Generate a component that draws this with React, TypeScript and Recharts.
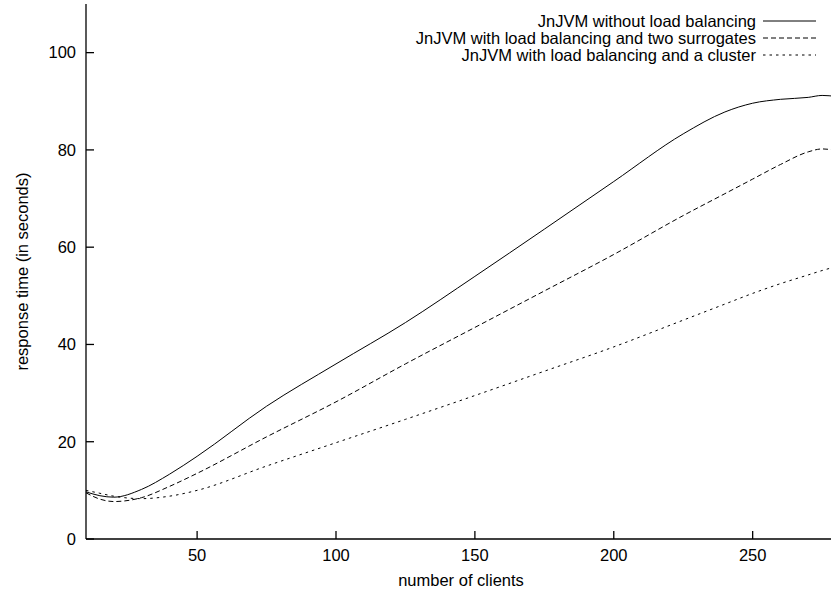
import React from "react";
import {LineChart, Line, XAxis, YAxis, Legend} from "recharts";

const clients = [10, 15, 20, 30, 40, 50, 75, 100, 125, 150, 175, 200, 225, 240, 250, 260, 270, 275, 280];
const noBalancing = [9.7, 8.9, 8.6, 10.2, 13.3, 17, 27.3, 36, 44.5, 54, 63.7, 73.5, 83.3, 87.8, 89.6, 90.4, 90.8, 91.2, 91];
const twoSurrogates = [9.5, 8.2, 7.7, 8.5, 10.8, 13.5, 21, 28.2, 36, 43.5, 51, 58.5, 66.5, 71, 74, 77, 79.6, 80.2, 79.9];
const cluster = [10, 9.4, 8.8, 8.3, 8.8, 10, 15, 19.8, 24.6, 29.5, 34.5, 39.5, 45, 48.3, 50.5, 52.5, 54.3, 55.2, 56];

const seriesNames = [
    "JnJVM without load balancing",
    "JnJVM with load balancing and two surrogates",
    "JnJVM with load balancing and a cluster"
];
const xTicks = [50, 100, 150, 200, 250];
const yTicks = [0, 20, 40, 60, 80, 100];

const data = clients.map((c, i) => ({
    clients: c,
    a: noBalancing[i],
    b: twoSurrogates[i],
    c: cluster[i]
}));

const FONT = "'Liberation Sans', Arial, Helvetica, sans-serif";
const dashes = ["", "5 3", "2.5 4"];

function LegendBox() {
    const rowTops = [20.5, 37.5, 54.5];
    return (
        <div style={{position: "relative", width: 850, height: 70, fontFamily: FONT, fontSize: 16.5, color: "#000"}}>
            {seriesNames.map((n, i) => (
                <React.Fragment key={n}>
                    <div style={{
                        position: "absolute",
                        right: 850 - 756,
                        top: rowTops[i] - 8,
                        height: 16,
                        lineHeight: "16px",
                        whiteSpace: "nowrap"
                    }}>{n}</div>
                    <svg style={{position: "absolute", left: 763, top: rowTops[i] - 2}} width={54} height={4}>
                        <line x1={0} y1={2} x2={53} y2={2} stroke="#000" strokeWidth={1}
                              strokeDasharray={dashes[i] || undefined}/>
                    </svg>
                </React.Fragment>
            ))}
        </div>
    );
}

export default function App() {
    const tickStyle = {fill: "#000", fontSize: 16.5, fontFamily: FONT};
    return (
        <div style={{position: "absolute", left: 0, top: 0, width: 831, height: 593, overflow: "hidden", background: "#fff"}}>
            <LineChart width={850} height={593} data={data}
                       margin={{top: 4, right: 14, bottom: 4, left: 0}}>
                <XAxis xAxisId="bottom" dataKey="clients" type="number" domain={[10, 280]} ticks={xTicks}
                       allowDataOverflow height={50} tickSize={-8} tickMargin={18}
                       stroke="#000" strokeWidth={1.3} tick={tickStyle}
                       label={{value: "number of clients", position: "insideBottom", offset: 3,
                           style: {fill: "#000", fontSize: 16.5, fontFamily: FONT}}}/>
                <XAxis xAxisId="top" orientation="top" type="number" domain={[10, 280]} ticks={xTicks}
                       allowDataOverflow height={0} tickSize={-8} tick={false}
                       stroke="#000" strokeWidth={1.3}/>
                <YAxis yAxisId="left" type="number" domain={[0, 110]} ticks={yTicks} allowDataOverflow
                       width={86} tickSize={-8} tickMargin={18} stroke="#000" strokeWidth={1.3} tick={tickStyle}
                       label={{value: "response time (in seconds)", angle: -90, position: "insideLeft", offset: 22,
                           style: {textAnchor: "middle", fill: "#000", fontSize: 16.5, fontFamily: FONT}}}/>
                <YAxis yAxisId="right" orientation="right" type="number" domain={[0, 110]} ticks={yTicks}
                       allowDataOverflow width={0} tickSize={-8} tick={false} stroke="#000" strokeWidth={1.3}/>
                <Legend layout="horizontal" verticalAlign="middle" align="center"
                        wrapperStyle={{position: "absolute", left: 0, top: 0, width: 850, height: 70}}
                        content={() => <LegendBox/>}/>
                <Line xAxisId="bottom" yAxisId="left" type="monotone" dataKey="a" name={seriesNames[0]}
                      stroke="#000" strokeWidth={1} dot={false} isAnimationActive={false}/>
                <Line xAxisId="bottom" yAxisId="left" type="monotone" dataKey="b" name={seriesNames[1]}
                      stroke="#000" strokeWidth={1} strokeDasharray={dashes[1]} dot={false} isAnimationActive={false}/>
                <Line xAxisId="bottom" yAxisId="left" type="monotone" dataKey="c" name={seriesNames[2]}
                      stroke="#000" strokeWidth={1} strokeDasharray={dashes[2]} dot={false} isAnimationActive={false}/>
            </LineChart>
        </div>
    );
}
